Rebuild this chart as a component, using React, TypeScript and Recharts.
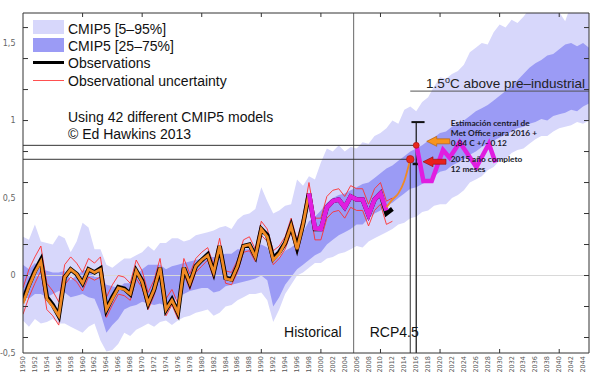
import React from "react";
import { ComposedChart, Area, Line, XAxis, YAxis, ReferenceLine, Scatter } from "recharts";

// ---------- data ----------
const years: number[] = Array.from({ length: 96 }, (_, i) => 1950 + i);

// CMIP5 5-95% envelope
const cmip5_95 = [
  0.25, 0.23, 0.33, 0.22, 0.21, 0.2, 0.26, 0.24, 0.15, 0.22,
  0.34, 0.31, 0.17, 0.17, 0.07, 0.05, 0.08, 0.11, 0.11, 0.13,
  0.15, 0.19, 0.16, 0.21, 0.21, 0.24, 0.24, 0.22, 0.23, 0.26,
  0.27, 0.28, 0.29, 0.31, 0.32, 0.3, 0.36, 0.39, 0.4, 0.43,
  0.57, 0.48, 0.4, 0.42, 0.45, 0.46, 0.62, 0.58, 0.64, 0.62,
  0.73, 0.82, 0.8, 0.84, 0.8, 0.83, 0.82, 0.86, 0.85, 0.9,
  0.92, 0.95, 1.0, 0.98, 1.07, 1.09, 1.06, 1.12, 1.15, 1.22,
  1.28, 1.27, 1.3, 1.32, 1.36, 1.44, 1.47, 1.5, 1.49, 1.57,
  1.62, 1.6, 1.65, 1.63, 1.67, 1.72, 1.75, 1.78, 1.76, 1.78,
  1.7, 1.64, 1.75, 1.8, 1.82, 1.85,
];
const cmip5_5 = [
  -0.29, -0.33, -0.28, -0.31, -0.3, -0.28, -0.31, -0.31, -0.33, -0.35,
  -0.37, -0.33, -0.31, -0.42, -0.49, -0.48, -0.44, -0.37, -0.39, -0.35,
  -0.33, -0.31, -0.33, -0.3, -0.29, -0.32, -0.29, -0.27, -0.26, -0.24,
  -0.23, -0.22, -0.26, -0.24, -0.2, -0.19, -0.16, -0.14, -0.12, -0.12,
  -0.11, -0.16, -0.3, -0.22, -0.12, -0.06, 0.0, 0.02, 0.05, 0.08,
  0.08, 0.11, 0.12, 0.14, 0.15, 0.17, 0.19, 0.18, 0.22, 0.24,
  0.26, 0.28, 0.3, 0.33, 0.34, 0.37, 0.38, 0.41, 0.42, 0.45,
  0.46, 0.46, 0.5, 0.52, 0.55, 0.6, 0.62, 0.64, 0.68, 0.7,
  0.74, 0.75, 0.79, 0.81, 0.82, 0.85, 0.88, 0.9, 0.9, 0.93,
  0.95, 0.96, 0.97, 0.99, 0.98, 1.0,
];
// CMIP5 25-75% envelope
const cmip5_75 = [
  0.07, 0.04, 0.08, 0.04, 0.03, 0.02, 0.02, 0.03, -0.03, 0.0,
  0.03, 0.04, -0.01, -0.01, -0.06, -0.07, -0.08, -0.05, -0.05, 0.0,
  0.04, 0.07, 0.07, 0.07, 0.04, 0.06, 0.07, 0.08, 0.09, 0.1,
  0.11, 0.12, 0.12, 0.13, 0.14, 0.14, 0.17, 0.17, 0.17, 0.18,
  0.2, 0.18, 0.1, 0.12, 0.16, 0.18, 0.21, 0.28, 0.35, 0.38,
  0.42, 0.47, 0.5, 0.52, 0.53, 0.55, 0.57, 0.59, 0.6, 0.63,
  0.66, 0.69, 0.71, 0.74, 0.77, 0.8, 0.82, 0.84, 0.87, 0.89,
  0.92, 0.93, 0.96, 0.98, 1.0, 1.03, 1.06, 1.08, 1.1, 1.13,
  1.16, 1.19, 1.22, 1.26, 1.3, 1.34, 1.37, 1.39, 1.42, 1.43,
  1.46, 1.49, 1.5, 1.48, 1.5, 1.47,
];
const cmip5_25 = [
  -0.13, -0.15, -0.12, -0.12, -0.14, -0.12, -0.1, -0.11, -0.14, -0.13,
  -0.12, -0.14, -0.15, -0.24, -0.37, -0.32, -0.28, -0.22, -0.2, -0.19,
  -0.17, -0.18, -0.19, -0.18, -0.2, -0.17, -0.14, -0.12, -0.1, -0.09,
  -0.08, -0.08, -0.11, -0.1, -0.07, -0.06, -0.05, -0.04, -0.03, -0.02,
  0.0, -0.03, -0.2, -0.14, -0.06, -0.01, 0.04, 0.07, 0.1, 0.13,
  0.15, 0.2, 0.23, 0.26, 0.28, 0.3, 0.33, 0.33, 0.37, 0.4,
  0.42, 0.45, 0.47, 0.5, 0.53, 0.56, 0.57, 0.59, 0.61, 0.64,
  0.67, 0.68, 0.71, 0.73, 0.75, 0.78, 0.8, 0.83, 0.85, 0.87,
  0.89, 0.91, 0.93, 0.95, 0.96, 0.98, 0.99, 1.01, 1.0, 1.03,
  1.04, 1.05, 1.07, 1.06, 1.09, 1.11,
];

// Observations 1950-2012
const observations = [
  -0.16, -0.06, 0.03, 0.1, -0.14, -0.19, -0.26, -0.01, 0.04, 0.01,
  -0.05, 0.04, 0.02, 0.045, -0.22, -0.14, -0.075, -0.085, -0.12, 0.03,
  -0.035, -0.18, -0.09, 0.05, -0.22, -0.155, -0.24, 0.05, -0.05, 0.06,
  0.1, 0.135, 0.02, 0.19, -0.015, -0.025, 0.06, 0.19, 0.2, 0.125,
  0.3, 0.26, 0.11, 0.15, 0.21, 0.32, 0.18, 0.33, 0.53, 0.3,
  0.3, 0.44, 0.48, 0.49, 0.44, 0.51, 0.49, 0.49, 0.39, 0.49,
  0.53, 0.4, 0.43,
];
const obsUpper = [
  -0.08, 0.04, 0.12, 0.19, -0.05, -0.1, -0.17, 0.07, 0.12, 0.08,
  0.02, 0.11, 0.08, 0.12, -0.14, -0.06, 0.0, -0.01, -0.05, 0.1,
  0.03, -0.11, -0.03, 0.11, -0.15, -0.09, -0.18, 0.11, 0.01, 0.11,
  0.15, 0.18, 0.07, 0.24, 0.03, 0.02, 0.1, 0.23, 0.25, 0.17,
  0.35, 0.3, 0.16, 0.19, 0.25, 0.37, 0.23, 0.38, 0.6, 0.37,
  0.37, 0.51, 0.55, 0.56, 0.51, 0.58, 0.56, 0.56, 0.46, 0.56,
  0.6, 0.48, 0.5,
];
const obsLower = [
  -0.25, -0.14, -0.05, 0.03, -0.22, -0.26, -0.32, -0.06, -0.01, -0.04,
  -0.1, -0.01, -0.03, -0.01, -0.27, -0.19, -0.12, -0.13, -0.16, -0.02,
  -0.08, -0.22, -0.13, 0.01, -0.26, -0.19, -0.28, 0.01, -0.09, 0.02,
  0.06, 0.1, -0.02, 0.15, -0.05, -0.06, 0.02, 0.15, 0.16, 0.09,
  0.26, 0.22, 0.07, 0.11, 0.17, 0.28, 0.14, 0.29, 0.47, 0.23,
  0.23, 0.37, 0.41, 0.42, 0.37, 0.44, 0.42, 0.42, 0.32, 0.42,
  0.46, 0.33, 0.35,
];
// Second observational series (orange) 1950-2011
const orangeObs = [
  -0.18, -0.07, 0.02, 0.09, -0.15, -0.2, -0.26, -0.01, 0.04, 0.01,
  -0.05, 0.04, 0.02, 0.04, -0.22, -0.15, -0.08, -0.09, -0.12, 0.03,
  -0.04, -0.18, -0.09, 0.05, -0.22, -0.16, -0.24, 0.05, -0.05, 0.06,
  0.1, 0.13, 0.02, 0.19, -0.02, -0.03, 0.06, 0.19, 0.2, 0.12,
  0.3, 0.25, 0.1, 0.14, 0.21, 0.32, 0.17, 0.33, 0.53, 0.3,
  0.3, 0.44, 0.48, 0.49, 0.44, 0.51, 0.49, 0.49, 0.39, 0.49,
  0.53, 0.43,
];
const magentaStart = 1998;
const magentaHist = [0.53, 0.305, 0.3, 0.44, 0.48, 0.49, 0.44, 0.51, 0.49, 0.49, 0.39, 0.49, 0.53, 0.42];

const orangeTailYears = [2011, 2012, 2013, 2014, 2015];
const orangeTail = [0.44, 0.49, 0.53, 0.61, 0.75];

const magentaFutureYears = [2016.0, 2017.2, 2018.6, 2020.5, 2021.6, 2023.3, 2026.1, 2028.2, 2029.3];
const magentaFuture = [0.85, 0.61, 0.61, 0.81, 0.76, 0.86, 0.7, 0.85, 0.73];

const estimateYears = [2015, 2016];
const estimateValues = [0.75, 0.84];
const estimateUpper2016 = 0.99;
const estimateLower2016 = 0.72;
const preIndustrial15 = 1.19;
const divideYear = 2005.5;

const xLabelTicks = Array.from({ length: 48 }, (_, i) => 1950 + 2 * i);
const decadeTicks = [1960, 1970, 1980, 1990, 2000, 2010, 2020, 2030, 2040];
const yTicks = [-0.5, -0.4, -0.2, 0, 0.2, 0.4, 0.5, 0.6, 0.8, 1, 1.2, 1.4, 1.5, 1.6];

// ---------- tables ----------
const table = years.map((year, i) => {
  const row: any = { year, light: [cmip5_5[i], cmip5_95[i]], dark: [cmip5_25[i], cmip5_75[i]] };
  const j = year - 1950;
  if (j < observations.length) {
    row.obs = observations[j];
    row.obsHi = obsUpper[j];
    row.obsLo = obsLower[j];
  }
  if (j < orangeObs.length) row.orange = orangeObs[j];
  const k = year - magentaStart;
  if (k >= 0 && k < magentaHist.length) row.magenta = magentaHist[k];
  return row;
});
const tailData = orangeTailYears.map((year, i) => ({ year, v: orangeTail[i] }));
const futureData = magentaFutureYears.map((year, i) => ({ year, v: magentaFuture[i] }));
const dotData = estimateYears.map((year, i) => ({ year, v: estimateValues[i], big: i === 0 }));

const LIGHT = "#d7d7fb";
const DARK = "#9b9bf5";
const MAGENTA = "#e01ee0";
const ORANGE = "#f08a24";
const AXIS = "#333";

const isLabel = (v: number) => Math.abs(v * 2 - Math.round(v * 2)) < 1e-6;
const isMark = (v: number) => Math.abs(v * 5 - Math.round(v * 5)) < 1e-6 && v > -0.45;
const fmt = (v: number) => String(v).replace(".", ",");

const LeftTick = (p: any) => {
  const { x, y, payload } = p;
  const v = payload.value;
  return (
    <g>
      {isMark(v) && <line x1={x} x2={x + 5} y1={y} y2={y} stroke={AXIS} />}
      {isLabel(v) && (
        <text x={x - 7.5} y={y} textAnchor="end" dominantBaseline="central" fontSize={8} fill="#666" fontFamily="DejaVu Sans, sans-serif">
          {fmt(v)}
        </text>
      )}
    </g>
  );
};
const RightTick = (p: any) => {
  const { x, y, payload } = p;
  return isMark(payload.value) ? <line x1={x} x2={x - 5} y1={y} y2={y} stroke={AXIS} /> : <g />;
};
const BottomTick = (p: any) => {
  const { x, y, payload } = p;
  const yr = payload.value;
  const ty = y + 3;
  return (
    <g>
      {yr % 10 === 0 && yr > 1950 && <line x1={x} x2={x} y1={y} y2={y - 4} stroke={AXIS} />}
      <text x={x} y={ty} transform={`rotate(-90, ${x}, ${ty})`} textAnchor="end" dominantBaseline="central" fontSize={6.5} fill="#555" fontFamily="DejaVu Sans, sans-serif">
        {yr}
      </text>
    </g>
  );
};
const TopTick = (p: any) => {
  const { x, y } = p;
  return <line x1={x} x2={x} y1={y} y2={y + 4} stroke={AXIS} />;
};

const Dot = (p: any) => {
  const { cx, cy, payload } = p;
  const r = payload.big ? 3.8 : 3;
  return <circle cx={cx} cy={cy} r={r} fill="#e8281e" stroke="#a01010" strokeWidth={0.6} />;
};
const ArrowLeft = (fill: string, stroke: string) => (p: any) => {
  const { cx, cy } = p;
  const d = `M${cx},${cy} L${cx + 10},${cy - 5} L${cx + 10},${cy - 2.5} L${cx + 23},${cy - 2.5} L${cx + 23},${cy + 2.5} L${cx + 10},${cy + 2.5} L${cx + 10},${cy + 5} Z`;
  return <path d={d} fill={fill} stroke={stroke} strokeWidth={0.6} />;
};

const annoFont = { fontFamily: "Lato, 'Open Sans', sans-serif", fontWeight: 700, fontSize: 8.3, fill: "#1a1a2a" } as any;
const MetText = (p: any) => {
  const { cx, cy } = p;
  return (
    <text x={cx} y={cy} {...annoFont} dominantBaseline="central">
      <tspan x={cx} dy={0}>Estimación central de</tspan>
      <tspan x={cx} dy={9.6}>Met Office para 2016 +</tspan>
      <tspan x={cx} dy={9.6}>0,84 C +/- 0.12</tspan>
    </text>
  );
};
const YearText = (p: any) => {
  const { cx, cy } = p;
  return (
    <text x={cx} y={cy} {...annoFont} dominantBaseline="central">
      <tspan x={cx} dy={0}>2015 año completo</tspan>
      <tspan x={cx} dy={9.7}>12 meses</tspan>
    </text>
  );
};
const bigFont = { fontFamily: "'Liberation Sans', Arial, sans-serif", fill: "#111" } as any;
const HistText = (p: any) => (
  <text x={p.cx - 12} y={p.cy} textAnchor="end" dominantBaseline="central" fontSize={14} {...bigFont}>Historical</text>
);
const RcpText = (p: any) => (
  <text x={p.cx + 16} y={p.cy} textAnchor="start" dominantBaseline="central" fontSize={14} {...bigFont}>RCP4.5</text>
);
const PreText = (p: any) => (
  <text x={p.cx - 4} y={p.cy - 3} textAnchor="end" fontSize={13.5} {...bigFont} fill="#222">
    1.5<tspan dy={-5} fontSize={9}>o</tspan>
    <tspan dy={5}>C above pre–industrial</tspan>
  </text>
);

const legendText = (top: number, text: string) => (
  <div
    style={{
      position: "absolute", left: 68, top: top - 9, height: 18, lineHeight: "18px", fontSize: 14,
      fontFamily: "'Liberation Sans', Arial, sans-serif", color: "#111", whiteSpace: "nowrap",
    }}
  >
    {text}
  </div>
);

export default function App() {
  return (
    <div style={{ position: "absolute", left: 0, top: 0, width: 600, height: 377, background: "#fff" }}>
      <ComposedChart width={600} height={377} data={table} margin={{ top: 0, right: 0, bottom: 0, left: 0 }}>
        <XAxis dataKey="year" type="number" domain={[1950, 2045]} allowDataOverflow ticks={xLabelTicks} interval={0}
          height={24} tickSize={0} tickMargin={0} tickLine={false} tick={<BottomTick />} axisLine={{ stroke: AXIS }} />
        <XAxis xAxisId="top" orientation="top" dataKey="year" type="number" domain={[1950, 2045]} allowDataOverflow
          ticks={decadeTicks} interval={0} height={13} tickSize={0} tickMargin={0} tickLine={false} tick={<TopTick />} axisLine={{ stroke: AXIS }} />
        <YAxis type="number" domain={[-0.5, 1.694]} allowDataOverflow ticks={yTicks} interval={0} width={23}
          tickSize={0} tickMargin={0} tickLine={false} tick={<LeftTick />} axisLine={{ stroke: AXIS }} />
        <YAxis yAxisId="right" orientation="right" type="number" domain={[-0.5, 1.694]} allowDataOverflow ticks={yTicks}
          interval={0} width={11} tickSize={0} tickMargin={0} tickLine={false} tick={<RightTick />} axisLine={{ stroke: AXIS }} />

        <Area dataKey="light" type="linear" fill={LIGHT} fillOpacity={1} stroke="none" isAnimationActive={false} />
        <Area dataKey="dark" type="linear" fill={DARK} fillOpacity={1} stroke="none" isAnimationActive={false} />

        <ReferenceLine y={0} stroke="#d9d9d9" strokeWidth={1} />
        <ReferenceLine x={divideYear} stroke="#666" strokeWidth={1} />
        <ReferenceLine segment={[{ x: 1950, y: estimateValues[1] }, { x: 2016, y: estimateValues[1] }]} stroke="#333" strokeWidth={1} />
        <ReferenceLine segment={[{ x: 1950, y: estimateValues[0] }, { x: 2015, y: estimateValues[0] }]} stroke="#333" strokeWidth={1} />
        <ReferenceLine segment={[{ x: 2015, y: -0.5 }, { x: 2015, y: estimateValues[0] }]} stroke="#333" strokeWidth={1} />
        <ReferenceLine segment={[{ x: 2016, y: -0.5 }, { x: 2016, y: estimateUpper2016 }]} stroke="#111" strokeWidth={1.2} />
        <ReferenceLine segment={[{ x: 2015.2, y: estimateUpper2016 }, { x: 2017.4, y: estimateUpper2016 }]} stroke="#111" strokeWidth={2} />
        <ReferenceLine segment={[{ x: 2015.4, y: estimateLower2016 }, { x: 2016.9, y: estimateLower2016 }]} stroke="#111" strokeWidth={2.5} />
        <ReferenceLine segment={[{ x: 2015, y: preIndustrial15 }, { x: 2045, y: preIndustrial15 }]} stroke="#555" strokeWidth={1} />

        <Line dataKey="obsHi" type="linear" stroke="#ff3030" strokeWidth={0.9} dot={false} isAnimationActive={false} />
        <Line dataKey="obsLo" type="linear" stroke="#ff3030" strokeWidth={0.9} dot={false} isAnimationActive={false} />
        <Line dataKey="obs" type="linear" stroke="#000" strokeWidth={4.5} dot={false} isAnimationActive={false} />
        <Line dataKey="orange" type="linear" stroke={ORANGE} strokeWidth={2.8} dot={false} isAnimationActive={false} />

        <Scatter data={[{ year: 2021.8, v: 0.982 }]} dataKey="v" shape={<MetText />} isAnimationActive={false} />
        <Scatter data={[{ year: 2021.8, v: 0.752 }]} dataKey="v" shape={<YearText />} isAnimationActive={false} />
        <Scatter data={[{ year: divideYear, v: -0.365 }]} dataKey="v" shape={<HistText />} isAnimationActive={false} />
        <Scatter data={[{ year: divideYear, v: -0.365 }]} dataKey="v" shape={<RcpText />} isAnimationActive={false} />
        <Scatter data={[{ year: 2045, v: preIndustrial15 }]} dataKey="v" shape={<PreText />} isAnimationActive={false} />

        <Line dataKey="magenta" type="linear" stroke={MAGENTA} strokeWidth={4.5} dot={false} isAnimationActive={false} />
        <Line data={tailData} dataKey="v" type="monotone" stroke={ORANGE} strokeWidth={1.8} dot={false} isAnimationActive={false} />
        <Line data={futureData} dataKey="v" type="linear" stroke={MAGENTA} strokeWidth={4.5} dot={false} isAnimationActive={false} />

        <Scatter data={[{ year: 2017.76, v: 0.866 }]} dataKey="v" shape={ArrowLeft("#f7941d", "#b35a00")} isAnimationActive={false} />
        <Scatter data={[{ year: 2017.14, v: 0.734 }]} dataKey="v" shape={ArrowLeft("#e8201c", "#8a0d0d")} isAnimationActive={false} />
        <Scatter data={dotData} dataKey="v" shape={<Dot />} isAnimationActive={false} />
      </ComposedChart>

      <div style={{ position: "absolute", left: 33, top: 20, width: 31, height: 14, background: LIGHT }} />
      <div style={{ position: "absolute", left: 33, top: 38, width: 31, height: 14, background: DARK }} />
      <div style={{ position: "absolute", left: 33, top: 61, width: 31, height: 3, background: "#000" }} />
      <div style={{ position: "absolute", left: 33, top: 80, width: 31, height: 1, background: "#ff5050" }} />
      {legendText(29, "CMIP5 [5–95%]")}
      {legendText(46, "CMIP5 [25–75%]")}
      {legendText(63, "Observations")}
      {legendText(81, "Observational uncertainty")}
      {legendText(117, "Using 42 different CMIP5 models")}
      {legendText(134, "© Ed Hawkins 2013")}
    </div>
  );
}
